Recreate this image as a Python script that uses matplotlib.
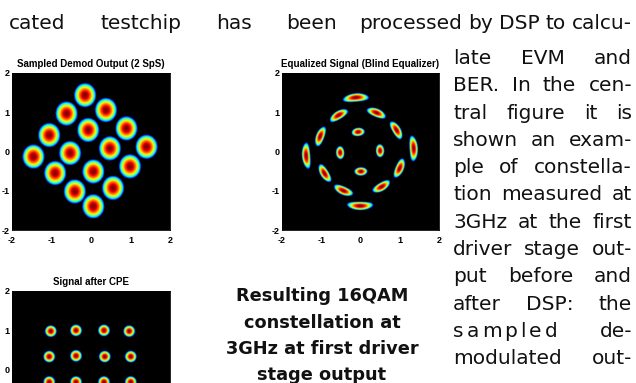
import numpy as np
import matplotlib
matplotlib.use("Agg")
import matplotlib.pyplot as plt
from matplotlib.transforms import IdentityTransform

# ---------------- data ----------------
demod_x = [-0.15, -0.62, 0.38, -1.06, -0.07, 0.90, 1.41, -1.46,
           -0.53, 0.48, 0.99, -0.91, 0.06, -0.41, 0.56, 0.06]
demod_y = [1.44, 0.97, 1.06, 0.42, 0.55, 0.59, 0.12, -0.13,
           -0.04, 0.08, -0.38, -0.55, -0.51, -1.02, -0.93, -1.40]

eq_x = [-0.12, -0.56, 0.41, -1.03, -0.06, 0.92, 1.36, -1.39,
        -0.52, 0.50, 1.00, -0.92, 0.01, -0.44, 0.54, -0.01]
eq_y = [1.38, 0.93, 0.99, 0.39, 0.50, 0.55, 0.08, -0.11,
        -0.03, 0.02, -0.43, -0.56, -0.51, -1.00, -0.90, -1.39]

cpe_x = [-1.02, -0.38, 0.33, 0.97,
         -1.06, -0.38, 0.35, 1.01,
         -1.06, -0.38, 0.33, 1.01,
         -1.04, -0.38, 0.33, 1.00]
cpe_y = [0.98, 1.00, 1.00, 0.98,
         0.33, 0.35, 0.33, 0.33,
         -0.32, -0.32, -0.32, -0.32,
         -0.98, -0.98, -0.98, -0.98]

tick_values = [-2, -1, 0, 1, 2]
tick_labels = ["-2", "-1", "0", "1", "2"]
cpe_visible_yticks = [0, 1, 2]
panel_titles = ["Sampled Demod Output (2 SpS)",
                "Equalized Signal (Blind Equalizer)",
                "Signal after CPE"]

top_left = "cated testchip has been"
top_right = "processed by DSP to calcu-"
column_lines = ["late EVM and", "BER. In the cen-", "tral figure it is",
                "shown an exam-", "ple of constella-", "tion measured at",
                "3GHz at the first", "driver stage out-", "put before and",
                "after DSP: the", "sampled de-", "modulated out-"]
caption_lines = ["Resulting 16QAM", "constellation at",
                 "3GHz at first driver", "stage output"]

# ---------------- figure ----------------
W, H = 636, 383
fig = plt.figure(figsize=(W / 100, H / 100), dpi=100, facecolor="white")
plt.rcParams['axes.unicode_minus'] = False

cmap = plt.get_cmap("jet").copy()
cmap.set_under("black")


def field(px, py, mode, a, b, n=360):
    g = np.linspace(-2, 2, n)
    X, Y = np.meshgrid(g, g)
    V = np.full(X.shape, -1.0)
    R = np.hypot(X, Y)
    T = np.arctan2(Y, X)
    for x0, y0 in zip(px, py):
        if mode == "polar":
            r0 = np.hypot(x0, y0)
            t0 = np.arctan2(y0, x0)
            dt = np.angle(np.exp(1j * (T - t0)))
            L = max(b * r0, 0.17)
            d2 = ((R - r0) / a) ** 2 + (r0 * dt / L) ** 2
        else:
            d2 = ((X - x0) / a) ** 2 + ((Y - y0) / b) ** 2
        V = np.maximum(V, 1 - d2)
    V[V <= 0] = -1
    return V


def px_axes(x0, y0, x1, y1):
    return fig.add_axes([x0 / W, 1 - y1 / H, (x1 - x0) / W, (y1 - y0) / H])


panels = [
    (px_axes(12, 73, 170, 230), field(demod_x, demod_y, "xy", 0.28, 0.31), panel_titles[0], True),
    (px_axes(282, 73, 439, 230), field(eq_x, eq_y, "polar", 0.11, 0.245), panel_titles[1], True),
    (px_axes(12, 291, 170, 448), field(cpe_x, cpe_y, "xy", 0.15, 0.15), panel_titles[2], False),
]

tick_font = dict(family="Liberation Sans", weight="bold", size=6.5)
for ax, V, title, full in panels:
    ax.imshow(V, origin="lower", extent=[-2, 2, -2, 2], cmap=cmap,
              vmin=-0.15, vmax=1.0, interpolation="bilinear", aspect="auto")
    ax.set_xlim(-2, 2)
    ax.set_ylim(-2, 2)
    if full:
        ax.set_xticks(tick_values)
        ax.set_xticklabels(tick_labels, fontdict=tick_font)
        ax.set_yticks(tick_values)
        ax.set_yticklabels(tick_labels, fontdict=tick_font)
    else:
        ax.set_xticks([])
        ax.set_yticks(cpe_visible_yticks)
        ax.set_yticklabels([tick_labels[tick_values.index(v)] for v in cpe_visible_yticks],
                           fontdict=tick_font)
    ax.tick_params(axis="x", length=0, pad=4)
    ax.tick_params(axis="y", length=0, pad=1.8)
    for s in ax.spines.values():
        s.set_color("black")
        s.set_linewidth(0.6)
    ax.set_title(title, family="Liberation Sans", weight="bold", size=7.0, pad=4.0)

# ---------------- text ----------------
renderer = fig.canvas.get_renderer()
ident = IdentityTransform()
BODY = dict(family="DejaVu Sans", size=14.5, color="#111111")


def make_items(line, track_first):
    words = line.split(" ")
    items = []
    for i, w in enumerate(words):
        if i == 0 and track_first > 0:
            chars = [fig.text(0, 0, c, transform=ident, va="baseline", ha="left", **BODY)
                     for c in w]
            items.append(("track", chars))
        else:
            items.append(("word", fig.text(0, 0, w, transform=ident, va="baseline",
                                           ha="left", **BODY)))
    return items


def item_width(item, track):
    kind, obj = item
    if kind == "word":
        return obj.get_window_extent(renderer).width
    return sum(c.get_window_extent(renderer).width for c in obj) + track * (len(obj) - 1)


def place(items, widths, x0, gap, y_base, track):
    x = x0
    yd = H - y_base
    for it, w in zip(items, widths):
        kind, obj = it
        if kind == "word":
            obj.set_position((x, yd))
        else:
            cx = x
            for c in obj:
                c.set_position((cx, yd))
                cx += c.get_window_extent(renderer).width + track
        x += w + gap


def justify(line, x0, x1, y_base, track_first=0.0):
    items = make_items(line, track_first)
    widths = [item_width(it, track_first) for it in items]
    n = len(items)
    gap = (x1 - x0 - sum(widths)) / (n - 1) if n > 1 else 0
    place(items, widths, x0, gap, y_base, track_first)


def natural_right(line, x1, y_base, gap=6.0):
    items = make_items(line, 0)
    widths = [item_width(it, 0) for it in items]
    total = sum(widths) + gap * (len(items) - 1)
    place(items, widths, x1 - total, gap, y_base, 0)
    return x1 - total


start = natural_right(top_right, 632, 29, gap=6.0)
justify(top_left, 9, start - 22, 29)

base = 64
for i, line in enumerate(column_lines):
    tr = 3.0 if line.startswith("sampled") else 0.0
    justify(line, 453, 632, base + i * 27.3, track_first=tr)

cap_base = [301, 328, 354, 380]
for line, yb in zip(caption_lines, cap_base):
    fig.text(322 / W, 1 - yb / H, line, ha="center", va="baseline",
             family="DejaVu Sans", weight="bold", size=12.8, color="#111111")

fig.savefig("out.png", dpi=100, facecolor="white")
